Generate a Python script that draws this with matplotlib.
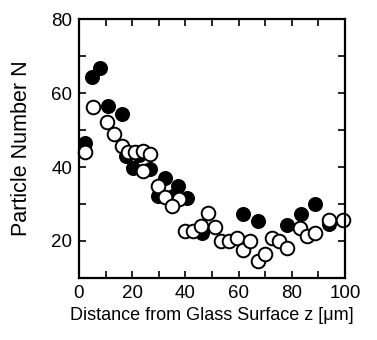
import matplotlib.pyplot as plt
from matplotlib.ticker import MultipleLocator

plt.rcParams['font.family'] = ['Liberation Sans', 'DejaVu Sans']

# filled circles
z_filled = [2.3, 4.9, 7.9, 10.9, 16.2, 17.5, 22.5, 20.4, 26.7, 32.3, 37.3,
            29.8, 35.3, 40.5, 46.4, 61.8, 67.2, 78.1, 83.3, 88.7, 94.1]
n_filled = [46.6, 64.2, 66.7, 56.4, 54.2, 43.0, 43.3, 39.6, 39.4, 37.0, 34.9,
            32.2, 32.2, 31.7, 22.2, 27.4, 25.4, 24.3, 27.4, 30.1, 24.5]

# open circles
z_open = [2.3, 5.3, 10.5, 13.2, 16.2, 18.5, 21.2, 24.2, 26.6, 23.9, 29.6,
          32.3, 37.6, 34.8, 39.8, 43.0, 45.7, 48.5, 51.0, 53.3, 56.5, 59.3,
          61.8, 64.3, 67.4, 69.9, 72.4, 75.3, 78.1, 83.1, 85.8, 88.7, 94.1, 99.1]
n_open = [44.1, 56.1, 52.3, 49.0, 45.8, 44.0, 44.0, 44.4, 43.5, 38.8, 34.8,
          31.8, 31.4, 29.4, 22.8, 22.7, 24.0, 27.5, 23.8, 20.0, 19.9, 20.8,
          17.7, 20.1, 14.7, 16.5, 20.7, 20.1, 18.1, 23.4, 21.3, 22.2, 25.6, 25.8]

fig = plt.figure(figsize=(3.77, 3.40), dpi=100)
ax = fig.add_axes([0.2095, 0.1824, 0.7055, 0.7616])

ax.plot(z_filled, n_filled, 'o', color='black', markersize=9.8, clip_on=False)
ax.plot(z_open, n_open, 'o', markerfacecolor='white', markeredgecolor='black',
        markeredgewidth=1.4, markersize=9.8, clip_on=False)

ax.set_xlim(0, 100)
ax.set_ylim(10, 80)
ax.xaxis.set_major_locator(MultipleLocator(20))
ax.xaxis.set_minor_locator(MultipleLocator(10))
ax.yaxis.set_major_locator(MultipleLocator(20))
ax.yaxis.set_minor_locator(MultipleLocator(10))
ax.tick_params(which='both', direction='in', top=True, right=True,
               length=5, width=1.2, labelsize=13.5)
ax.tick_params(which='major', pad=5)
for s in ax.spines.values():
    s.set_linewidth(1.6)

ax.set_xlabel('Distance from Glass Surface z [\u03bcm]', fontsize=13, labelpad=4)
ax.set_ylabel('Particle Number N', fontsize=15.5, labelpad=14)

fig.savefig('out.png', dpi=100)
